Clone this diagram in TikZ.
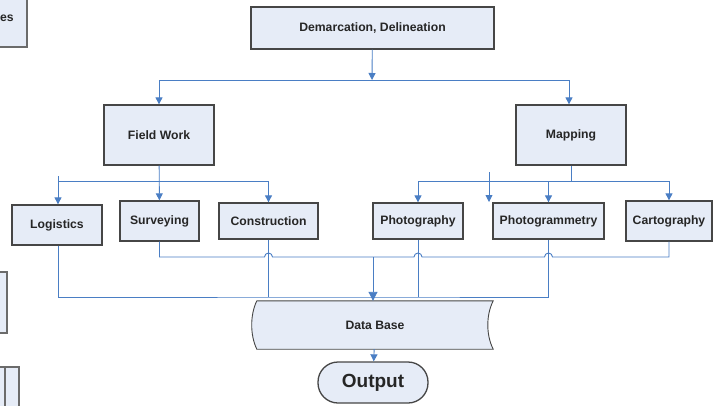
\documentclass[tikz,border=0pt]{standalone}
\usepackage{fontspec}
\setmainfont{Liberation Sans}
\usetikzlibrary{arrows.meta}
\definecolor{boxfill}{RGB}{230,236,247}
\definecolor{boxline}{RGB}{70,70,70}
\definecolor{linkblue}{RGB}{74,126,196}
\begin{document}
\begin{tikzpicture}[
    x=1pt, y=-1pt,
    every node/.style={font=\fontsize{12.2}{14}\selectfont\bfseries, align=center, inner sep=0pt, text=black!85},
    box/.style={draw=boxline, line width=1.3pt, fill=boxfill},
    link/.style={draw=linkblue, line width=0.9pt},
    arrow/.style={link, -{Triangle[length=7pt, width=7pt]}}
]
\useasboundingbox (0,0) rectangle (713,405);
% cut-off boxes at the left edge
\path[box, draw=boxline!80] (-20,-10) rectangle (27,47);
\node (cutA) at (7,18) {es};
\path[box, draw=boxline!80] (-20,272) rectangle (7,333);
\path[box, draw=boxline!80] (-20,367) rectangle (19,420);
\draw[boxline!80, line width=1.2pt] (5,367) -- (5,420);
% main boxes
\node[box, minimum width=243pt, minimum height=42pt] (demarc) at (372.5,28) {Demarcation, Delineation};
\node[box, minimum width=110pt, minimum height=60pt] (field) at (159,135) {Field Work};
\node[box, minimum width=110pt, minimum height=60pt] (mapping) at (571,135) {Mapping};
\node[box, minimum width=90pt, minimum height=40pt] (logi) at (57,225) {Logistics};
\node[box, minimum width=79pt, minimum height=40pt] (surv) at (159.5,221) {Surveying};
\node[box, minimum width=99pt, minimum height=36pt] (constr) at (268.5,221) {Construction};
\node[box, minimum width=90pt, minimum height=36pt] (photo) at (418,221) {Photography};
\node[box, minimum width=111pt, minimum height=36pt] (pgram) at (548.5,221) {Photogrammetry};
\node[box, minimum width=86pt, minimum height=40pt] (carto) at (669,221) {Cartography};
% data base and output
\node[minimum width=236pt, minimum height=48pt] (dbase) at (375,325) {Data Base};
\path[fill=boxfill, draw=boxline, line width=0.9pt]
    (dbase.north west) -- (dbase.north east)
    .. controls (486,315) and (486,335) .. (dbase.south east)
    -- (dbase.south west)
    .. controls (250,335) and (250,315) .. (dbase.north west);
\node at (dbase) {Data Base};
\node[box, minimum width=110pt, minimum height=41pt, rounded corners=20pt,
      font=\fontsize{19}{22}\selectfont\bfseries] (output) at (373,382.5) {Output};
% junctions
\coordinate (topj) at (372,80);
\coordinate (fieldj) at (159,181);
\coordinate (mapj) at (571,181);
\coordinate (stubL) at (58,176);
\coordinate (stray) at (489,172);
\coordinate (busA) at (373,257);
\coordinate (busB) at (373,297);
% top level
\draw[arrow] (demarc) -- (topj);
\draw[arrow] (topj) -| (field);
\draw[arrow] (topj) -| ([xshift=-2pt]mapping.north);
% field work branch
\draw[arrow] (field) -- (surv);
\draw[link] (fieldj) -| (stubL);
\draw[arrow] (stubL) -- ([xshift=1pt]logi.north);
\draw[arrow] (fieldj) -| (constr);
% mapping branch
\draw[link] (mapping) -- (mapj);
\draw[arrow] (mapj) -| (photo);
\draw[arrow] (mapj) -| (pgram);
\draw[arrow] (mapj) -| (carto);
\draw[arrow] (stray) -- ++(0,30);
% lower bus with hops
\draw[link] (surv.south) |- ([xshift=-4pt]constr.south |- busA)
    arc[start angle=180, end angle=0, radius=4pt]
    -- ([xshift=-4pt]photo.south |- busA)
    arc[start angle=180, end angle=0, radius=4pt]
    -- ([xshift=-4pt]pgram.south |- busA)
    arc[start angle=180, end angle=0, radius=4pt]
    -| (carto.south);
\draw[link] ([xshift=1pt]logi.south) |- (busB) -| (pgram.south);
\draw[link] (constr.south) -- (constr.south |- busB);
\draw[link] (photo.south) -- (photo.south |- busB);
\draw[arrow, -{Triangle[length=9pt, width=9pt]}] (busA) -- (busA |- dbase.north);
\draw[arrow] (dbase) -- (output);
\end{tikzpicture}
\end{document}
